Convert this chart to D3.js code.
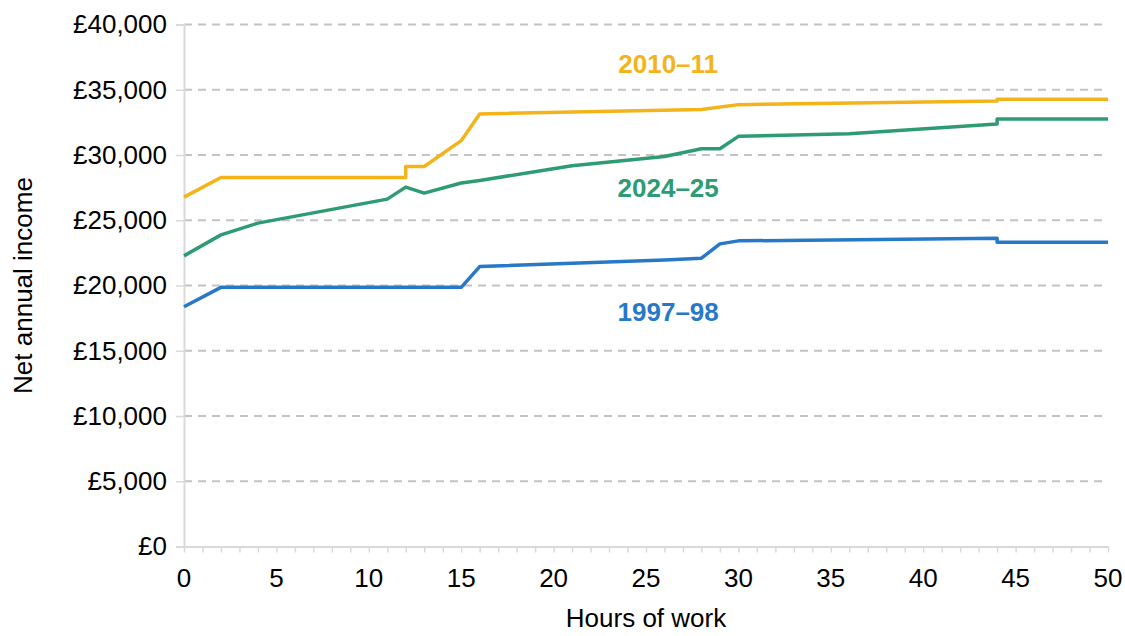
<!DOCTYPE html>
<html>
<head>
<meta charset="utf-8">
<script src="https://cdn.jsdelivr.net/npm/d3@7"></script>
<style>
  body { margin: 0; background: #fff; }
  text { font-family: "Liberation Sans", Arial, sans-serif; }
</style>
</head>
<body>
<div id="vis-container"></div>
<script>
// series: hours of work -> net annual income (£)
const hours1997 = [0, 2, 15, 16, 26, 28, 29, 30, 44, 44, 50];
const income1997 = [18375, 19860, 19860, 21450, 21960, 22090, 23190, 23420, 23620, 23320, 23320];

const hours2010 = [0, 2, 12, 12, 13, 15, 16, 28, 30, 44, 44, 50];
const income2010 = [26770, 28280, 28280, 29120, 29120, 31100, 33150, 33480, 33860, 34140, 34270, 34270];

const hours2024 = [0, 2, 4, 11, 12, 13, 15, 16, 21, 26, 28, 29, 30, 36, 44, 44, 50];
const income2024 = [22270, 23880, 24780, 26620, 27540, 27080, 27850, 28050, 29180, 29890, 30480, 30480, 31430, 31630, 32380, 32760, 32760];

const seriesNames = ["2010–11", "2024–25", "1997–98"];
const seriesColors = ["#F3B41B", "#2E9C73", "#2878C8"];
// where each series name sits, in data units
const labelHours = [26.2, 26.2, 26.2];
const labelIncome = [37000, 27450, 17950];

const yTicks = [0, 5000, 10000, 15000, 20000, 25000, 30000, 35000, 40000];
const xTicks = [0, 5, 10, 15, 20, 25, 30, 35, 40, 45, 50];

const width = 1125, height = 636;
const margin = {top: 24.5, right: 17, bottom: 89.5, left: 184};

const svg = d3.select("#vis-container")
    .append("svg")
    .attr("width", width)
    .attr("height", height);

const x = d3.scaleLinear().domain([0, 50]).range([margin.left, width - margin.right]);
const y = d3.scaleLinear().domain([0, 40000]).range([height - margin.bottom, margin.top]);

const axisGrey = "#d9d9d9";
const fontSize = 26;

// dashed gridlines
svg.append("g")
    .selectAll("line")
    .data(yTicks.filter(d => d > 0))
    .enter().append("line")
    .attr("x1", x(0))
    .attr("x2", x(50))
    .attr("y1", d => y(d))
    .attr("y2", d => y(d))
    .attr("stroke", "#c3c3c3")
    .attr("stroke-width", 2)
    .attr("stroke-dasharray", "8,6");

// y axis
const yAxis = svg.append("g")
    .attr("transform", `translate(${x(0)},0)`)
    .call(d3.axisLeft(y).tickValues(yTicks).tickSize(8).tickPadding(9)
        .tickFormat(d => "£" + d3.format(",")(d)));
yAxis.select(".domain").attr("stroke", axisGrey).attr("stroke-width", 2);
yAxis.selectAll(".tick line").attr("stroke", axisGrey).attr("stroke-width", 1.5);
yAxis.selectAll(".tick text")
    .attr("font-size", fontSize)
    .attr("font-family", "Liberation Sans, Arial, sans-serif")
    .attr("fill", "#000");

// x axis: minor tick every hour, labels every 5
const xAxis = svg.append("g")
    .attr("transform", `translate(0,${y(0)})`)
    .call(d3.axisBottom(x).tickValues(d3.range(0, 51)).tickSize(6).tickSizeOuter(0).tickFormat(""));
xAxis.select(".domain").attr("stroke", axisGrey).attr("stroke-width", 2);
xAxis.selectAll(".tick line").attr("stroke", axisGrey).attr("stroke-width", 1.5);

svg.append("g")
    .selectAll("text")
    .data(xTicks)
    .enter().append("text")
    .attr("x", d => x(d))
    .attr("y", y(0) + 31)
    .attr("text-anchor", "middle")
    .attr("dominant-baseline", "central")
    .attr("font-size", fontSize)
    .attr("fill", "#000")
    .text(d => d);

// axis titles
svg.append("text")
    .attr("x", (x(0) + x(50)) / 2)
    .attr("y", 627)
    .attr("text-anchor", "middle")
    .attr("font-size", fontSize)
    .attr("fill", "#000")
    .text("Hours of work");

svg.append("text")
    .attr("transform", `translate(23,${(y(0) + y(40000)) / 2}) rotate(-90)`)
    .attr("text-anchor", "middle")
    .attr("dominant-baseline", "central")
    .attr("font-size", fontSize)
    .attr("fill", "#000")
    .text("Net annual income");

// lines
const series = [
    {name: seriesNames[0], color: seriesColors[0], hours: hours2010, income: income2010},
    {name: seriesNames[1], color: seriesColors[1], hours: hours2024, income: income2024},
    {name: seriesNames[2], color: seriesColors[2], hours: hours1997, income: income1997}
];

const line = d3.line()
    .x(d => x(d[0]))
    .y(d => y(d[1]));

svg.append("g")
    .selectAll("path")
    .data(series)
    .enter().append("path")
    .attr("fill", "none")
    .attr("stroke", d => d.color)
    .attr("stroke-width", 3.5)
    .attr("stroke-linejoin", "round")
    .attr("d", d => line(d.hours.map((h, i) => [h, d.income[i]])));

// series labels
svg.append("g")
    .selectAll("text")
    .data(series)
    .enter().append("text")
    .attr("x", (d, i) => x(labelHours[i]))
    .attr("y", (d, i) => y(labelIncome[i]))
    .attr("text-anchor", "middle")
    .attr("dominant-baseline", "central")
    .attr("font-size", 26)
    .attr("font-weight", "bold")
    .attr("fill", d => d.color)
    .text(d => d.name);
</script>
</body>
</html>
